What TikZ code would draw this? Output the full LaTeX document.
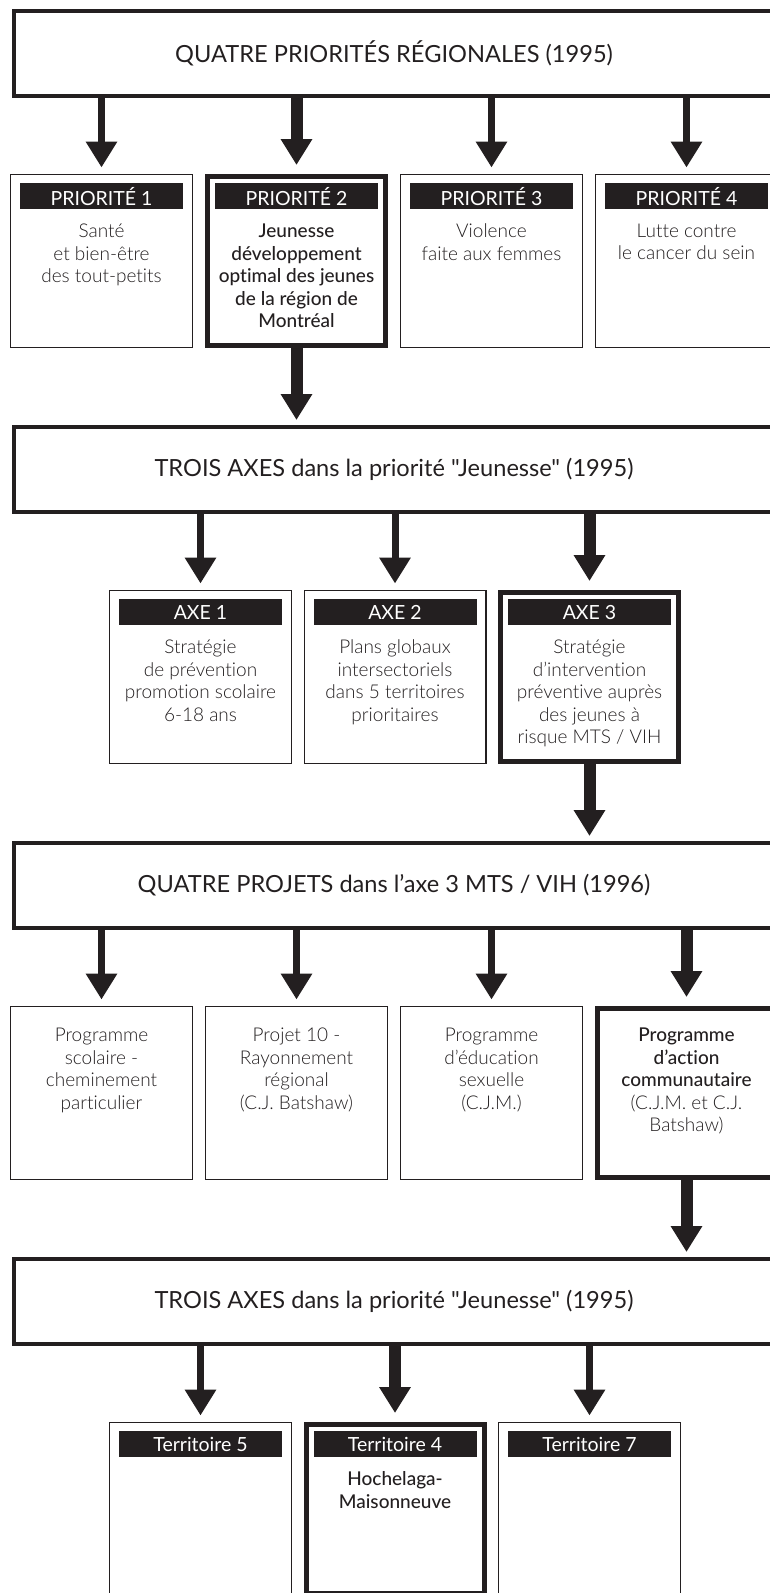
\documentclass[tikz,border=0pt]{standalone}
\usepackage{fontspec}
\IfFontExistsTF{Lato Light}{\setmainfont{Lato Light}[Ligatures={TeXOff,CommonOff}]}{\setmainfont{Lato}[Ligatures={TeXOff,CommonOff}]}
\IfFontExistsTF{Lato Medium}{\newfontfamily\midfont{Lato Medium}[Ligatures={TeXOff,CommonOff}]}{\newfontfamily\midfont{Lato}[Ligatures={TeXOff,CommonOff}]}
\newfontfamily\tagfont{Lato}[Ligatures={TeXOff,CommonOff}]
\usepackage{tikz}
\usetikzlibrary{arrows.meta}
\definecolor{ink}{HTML}{231F20}

\begin{document}
\begin{tikzpicture}[x=1pt,y=-1pt,>={Triangle[length=26pt,width=30pt]},
  big/.style={draw=ink,line width=4pt,minimum width=760pt,minimum height=85pt,text=ink,font=\tagfont\fontsize{23.6}{28}\selectfont},
  box/.style={draw=ink,line width=1.4pt,minimum width=181.6pt,minimum height=172.6pt},
  keybox/.style={box,line width=5pt,minimum width=178pt,minimum height=169pt},
  tag/.style={fill=ink,text=white,anchor=north,inner sep=0pt,minimum width=163pt,minimum height=26pt,font=\tagfont\fontsize{19.5}{20}\selectfont},
  txt/.style={anchor=north,align=center,inner sep=0pt,text=ink,font=\fontsize{19}{22.5}\selectfont,execute at begin node={\rule{0pt}{18pt}}},
  keytxt/.style={txt,font=\midfont\fontsize{19}{22.5}\selectfont},
  arr/.style={->,draw=ink,line width=7pt,shorten >=6.5pt},
  keyarr/.style={arr,line width=12pt,shorten >=9pt}]
\useasboundingbox (0,0) rectangle (769,1593);

\node[big] (prio) at (394,53.5) {QUATRE PRIORITÉS RÉGIONALES (1995)};
\node[box] (p1) at (101.5,261) {};
\node[keybox] (p2) at (296.5,261) {};
\node[box] (p3) at (491.5,261) {};
\node[box] (p4) at (686.5,261) {};
\node[tag] (tp1) at (101.5,183) {PRIORITÉ 1};
\node[tag] (tp2) at (296.5,183) {PRIORITÉ 2};
\node[tag] (tp3) at (491.5,183) {PRIORITÉ 3};
\node[tag] (tp4) at (686.5,183) {PRIORITÉ 4};
\node[txt] (sp1) at (101.5,223.75) {Santé\\et bien-être\\des tout-petits};
\node[keytxt] (sp2) at (296.5,223.75) {Jeunesse\\développement\\optimal des jeunes\\de la région de\\Montréal};
\node[txt] (sp3) at (491.5,223.75) {Violence\\faite aux femmes};
\node[txt] (sp4) at (686.5,223.75) {Lutte contre\\le cancer du sein};
\draw[arr] (prio.south -| p1) -- (p1.north);
\draw[keyarr] (prio.south -| p2) -- (p2.north);
\draw[arr] (prio.south -| p3) -- (p3.north);
\draw[arr] (prio.south -| p4) -- (p4.north);

\node[big] (axes) at (394,469.5) {TROIS AXES dans la priorité "Jeunesse" (1995)};
\draw[keyarr,shorten >=5pt] (p2.south) -- (axes.north -| p2);
\node[box] (a1) at (200.5,677) {};
\node[box] (a2) at (395,677) {};
\node[keybox] (a3) at (589.5,677) {};
\node[tag] (ta1) at (200.5,599) {AXE 1};
\node[tag] (ta2) at (395,599) {AXE 2};
\node[tag] (ta3) at (589.5,599) {AXE 3};
\node[txt] (sa1) at (200.5,639.75) {Stratégie\\de prévention\\promotion scolaire\\6-18 ans};
\node[txt] (sa2) at (395,639.75) {Plans globaux\\intersectoriels\\dans 5 territoires\\prioritaires};
\node[txt] (sa3) at (589.5,639.75) {Stratégie\\d’intervention\\préventive auprès\\des jeunes à\\risque MTS / VIH};
\draw[arr] (axes.south -| a1) -- (a1.north);
\draw[arr] (axes.south -| a2) -- (a2.north);
\draw[keyarr] (axes.south -| a3) -- (a3.north);

\node[big] (proj) at (394,885.5) {QUATRE PROJETS dans l’axe 3 MTS / VIH (1996)};
\draw[keyarr,shorten >=5pt] (a3.south) -- (proj.north -| a3);
\node[box] (j1) at (101.5,1093) {};
\node[box] (j2) at (296.5,1093) {};
\node[box] (j3) at (491.5,1093) {};
\node[keybox] (j4) at (686.5,1093) {};
\node[txt] (sj1) at (101.5,1028) {Programme\\scolaire -\\cheminement\\particulier};
\node[txt] (sj2) at (296.5,1028) {Projet 10 -\\Rayonnement\\régional\\(C.J. Batshaw)};
\node[txt] (sj3) at (491.5,1028) {Programme\\d’éducation\\sexuelle\\(C.J.M.)};
\node[txt] (sj4) at (686.5,1028) {{\midfont Programme}\\{\midfont d’action}\\{\midfont communautaire}\\(C.J.M. et C.J.\\Batshaw)};
\draw[arr] (proj.south -| j1) -- (j1.north);
\draw[arr] (proj.south -| j2) -- (j2.north);
\draw[arr] (proj.south -| j3) -- (j3.north);
\draw[keyarr] (proj.south -| j4) -- (j4.north);

\node[big] (terr) at (394,1301.5) {TROIS AXES dans la priorité "Jeunesse" (1995)};
\draw[keyarr,shorten >=5pt] (j4.south) -- (terr.north -| j4);
\node[box] (r1) at (200.5,1509) {};
\node[keybox] (r2) at (395,1509) {};
\node[box] (r3) at (589.5,1509) {};
\node[tag] (tr1) at (200.5,1431) {Territoire 5};
\node[tag] (tr2) at (395,1431) {Territoire 4};
\node[tag] (tr3) at (589.5,1431) {Territoire 7};
\node[keytxt] (sr2) at (395,1471.75) {Hochelaga-\\Maisonneuve};
\draw[arr] (terr.south -| r1) -- (r1.north);
\draw[keyarr] (terr.south -| r2) -- (r2.north);
\draw[arr] (terr.south -| r3) -- (r3.north);
\end{tikzpicture}
\end{document}
